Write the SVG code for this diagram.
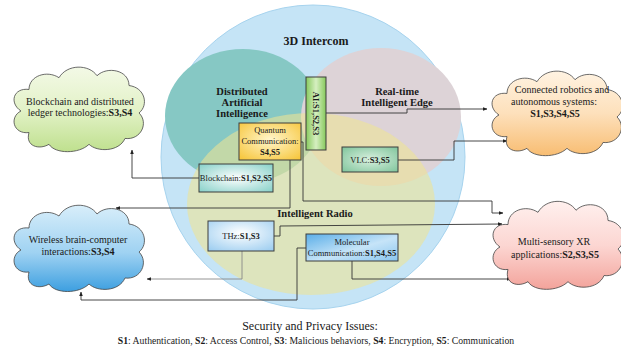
<svg xmlns="http://www.w3.org/2000/svg" xmlns:xlink="http://www.w3.org/1999/xlink" width="621" height="350" viewBox="0 0 621 350" font-family="'Liberation Serif', 'DejaVu Serif', serif">
  <defs>
    <style>
      text { font-family: "Liberation Serif", "DejaVu Serif", serif; fill: #1a1a1a; }
      .zone { font-size: 10.5px; font-weight: bold; text-anchor: middle; }
      .box { font-size: 8.5px; text-anchor: middle; }
      .cloudtxt { font-size: 10px; text-anchor: middle; }
      .b { font-weight: bold; }
      .boxframe { stroke: #3c3c3c; stroke-width: 1; }
      .wire { fill: none; stroke: #333; stroke-width: 0.9; }
      .wire.light { stroke: #888; }
      .cloudline { stroke: #444; stroke-width: 0.8; }
    </style>
    <marker id="arrow" viewBox="0 0 10 10" refX="9" refY="5" markerWidth="5" markerHeight="5" orient="auto">
      <path d="M0,1 L10,5 L0,9 z" fill="#222"/>
    </marker>
    <path id="cloud" d="M22,72 C6,74 2,56 14,50 C2,42 6,26 22,28 C22,14 40,8 52,16 C60,2 82,2 90,14 C100,4 122,8 122,24 C138,26 142,44 132,52 C142,62 134,80 118,78 C112,92 90,92 82,84 C72,94 48,94 42,84 C32,90 18,86 22,72 Z"/>
    <linearGradient id="gGreenCloud" x1="0" y1="0" x2="0" y2="1">
      <stop offset="0" stop-color="#f3f9e6"/>
      <stop offset="0.5" stop-color="#e3f2c8"/>
      <stop offset="1" stop-color="#bfe08e"/>
    </linearGradient>
    <linearGradient id="gBlueCloud" x1="0" y1="0" x2="0" y2="1">
      <stop offset="0" stop-color="#d8eefa"/>
      <stop offset="0.55" stop-color="#9fd2f2"/>
      <stop offset="1" stop-color="#3d9fe0"/>
    </linearGradient>
    <linearGradient id="gOrangeCloud" x1="0" y1="0" x2="0" y2="1">
      <stop offset="0" stop-color="#fff3e2"/>
      <stop offset="0.5" stop-color="#fde0bb"/>
      <stop offset="1" stop-color="#f8bd72"/>
    </linearGradient>
    <linearGradient id="gPinkCloud" x1="0" y1="0" x2="0" y2="1">
      <stop offset="0" stop-color="#fff0ee"/>
      <stop offset="0.5" stop-color="#fcd6d2"/>
      <stop offset="1" stop-color="#f3a39b"/>
    </linearGradient>
    <radialGradient id="gTeal" cx="0.5" cy="0.5" r="0.7">
      <stop offset="0" stop-color="#ffffff"/>
      <stop offset="1" stop-color="#86d0c8"/>
    </radialGradient>
    <radialGradient id="gYellow" cx="0.5" cy="0.45" r="0.7">
      <stop offset="0" stop-color="#fff6cc"/>
      <stop offset="1" stop-color="#f7c63c"/>
    </radialGradient>
    <linearGradient id="gGreenBox" x1="0" y1="0" x2="1" y2="0">
      <stop offset="0" stop-color="#86c95c"/>
      <stop offset="0.5" stop-color="#d6efc1"/>
      <stop offset="1" stop-color="#86c95c"/>
    </linearGradient>
    <radialGradient id="gVlc" cx="0.5" cy="0.5" r="0.7">
      <stop offset="0" stop-color="#d9f0df"/>
      <stop offset="1" stop-color="#7fc49b"/>
    </radialGradient>
    <radialGradient id="gThz" cx="0.5" cy="0.4" r="0.75">
      <stop offset="0" stop-color="#ffffff"/>
      <stop offset="1" stop-color="#9ccdf0"/>
    </radialGradient>
    <linearGradient id="gMol" x1="0" y1="0" x2="1" y2="1">
      <stop offset="0" stop-color="#5aaee8"/>
      <stop offset="0.55" stop-color="#c6e4f8"/>
      <stop offset="1" stop-color="#8ac6ef"/>
    </linearGradient>
  </defs>

  <rect width="621" height="350" fill="#ffffff"/>

  <!-- overlapping technology zones -->
  <g id="zones">
    <circle cx="313" cy="157" r="152" fill="#c5e4f6" stroke="#a6d3ee" stroke-width="1"/>
    <ellipse cx="243" cy="116" rx="78" ry="67" fill="#86c8c4"/>
    <ellipse cx="381" cy="117" rx="80" ry="69" fill="#ddd3d7"/>
    <ellipse cx="311" cy="204" rx="124" ry="91" fill="#eee394" fill-opacity="0.58"/>
    <text class="zone" x="316" y="45" style="font-size:12px">3D Intercom</text>
    <text class="zone" x="242" y="95">Distributed</text>
    <text class="zone" x="242" y="106">Artificial</text>
    <text class="zone" x="242" y="117">Intelligence</text>
    <text class="zone" x="397" y="95">Real-time</text>
    <text class="zone" x="397" y="106">Intelligent Edge</text>
    <text class="zone" x="315" y="217">Intelligent Radio</text>
  </g>

  <!-- connectors -->
  <g id="connectors">
    <polyline class="wire" points="199,178 132,178 132,150" marker-end="url(#arrow)"/>
    <polyline class="wire" points="290,160 290,208 116,208" marker-end="url(#arrow)"/>
    <polyline class="wire" points="301,142 303,142 303,201 492,201 492,213 503,213" marker-end="url(#arrow)"/>
    <polyline class="wire" points="326,113 407,113 407,109 487,109" marker-end="url(#arrow)"/>
    <polyline class="wire" points="398,160 454,160 454,141 507,141" marker-end="url(#arrow)"/>
    <polyline class="wire" points="274,236 280,236 280,226 502,224" marker-end="url(#arrow)"/>
    <polyline class="wire light" points="242,251 242,279 147,279" marker-end="url(#arrow)"/>
    <polyline class="wire" points="306,248 297,248 297,300 81,300 81,292" marker-end="url(#arrow)"/>
    <polyline class="wire" points="352,261 352,279 511,279" marker-end="url(#arrow)"/>
  </g>

  <!-- application clouds -->
  <g id="cloud-blockchain">
    <use xlink:href="#cloud" href="#cloud" transform="translate(7,62) scale(1.0,0.98)" fill="url(#gGreenCloud)" class="cloudline"/>
    <text class="cloudtxt" x="80" y="105">Blockchain and distributed</text>
    <text class="cloudtxt" x="80" y="116">ledger technologies:<tspan class="b">S3,S4</tspan></text>
  </g>
  <g id="cloud-bci">
    <use xlink:href="#cloud" href="#cloud" transform="translate(7,200) scale(1.0,1.0)" fill="url(#gBlueCloud)" class="cloudline"/>
    <text class="cloudtxt" x="78" y="243">Wireless brain-computer</text>
    <text class="cloudtxt" x="78" y="255">interactions:<tspan class="b">S3,S4</tspan></text>
  </g>
  <g id="cloud-robotics">
    <use xlink:href="#cloud" href="#cloud" transform="translate(485,66) scale(1.0,0.98)" fill="url(#gOrangeCloud)" class="cloudline"/>
    <text class="cloudtxt" x="562" y="93">Connected robotics and</text>
    <text class="cloudtxt" x="554" y="105">autonomous systems:</text>
    <text class="cloudtxt b" x="555" y="117">S1,S3,S4,S5</text>
  </g>
  <g id="cloud-xr">
    <use xlink:href="#cloud" href="#cloud" transform="translate(486,196) scale(1.0,1.02)" fill="url(#gPinkCloud)" class="cloudline"/>
    <text class="cloudtxt" x="554" y="245">Multi-sensory XR</text>
    <text class="cloudtxt" x="555" y="258">applications:<tspan class="b">S2,S3,S5</tspan></text>
  </g>

  <!-- technology boxes -->
  <g id="box-ai">
    <rect class="boxframe" x="306" y="77" width="20" height="73" fill="url(#gGreenBox)"/>
    <text class="box b" transform="translate(313,113.5) rotate(90)">AI:S1,S2,S3</text>
  </g>
  <g id="box-quantum">
    <rect class="boxframe" x="239" y="123" width="62" height="37" fill="url(#gYellow)"/>
    <text class="box" x="270" y="133">Quantum</text>
    <text class="box" x="270" y="144">Communication:</text>
    <text class="box b" x="270" y="155">S4,S5</text>
  </g>
  <g id="box-blockchain">
    <rect class="boxframe" x="199" y="164" width="74" height="28" fill="url(#gTeal)"/>
    <text class="box" x="236" y="181">Blockchain:<tspan class="b">S1,S2,S5</tspan></text>
  </g>
  <g id="box-vlc">
    <rect class="boxframe" x="342" y="147" width="56" height="25" fill="url(#gVlc)"/>
    <text class="box" x="370" y="162.5">VLC:<tspan class="b">S3,S5</tspan></text>
  </g>
  <g id="box-thz">
    <rect class="boxframe" x="208" y="221" width="66" height="30" fill="url(#gThz)"/>
    <text class="box" x="241" y="239">THz:<tspan class="b">S1,S3</tspan></text>
  </g>
  <g id="box-molecular">
    <rect class="boxframe" x="306" y="234" width="92" height="27" fill="url(#gMol)"/>
    <text class="box" x="352" y="245">Molecular</text>
    <text class="box" x="352" y="256">Communication:<tspan class="b">S1,S4,S5</tspan></text>
  </g>

  <!-- legend -->
  <g id="legend">
    <text x="310" y="330" style="font-size:12px; text-anchor:middle">Security and Privacy Issues:</text>
    <text x="316" y="344" style="font-size:9.7px; text-anchor:middle"><tspan class="b">S1</tspan>: Authentication, <tspan class="b">S2</tspan>: Access Control, <tspan class="b">S3</tspan>: Malicious behaviors, <tspan class="b">S4</tspan>: Encryption, <tspan class="b">S5</tspan>: Communication</text>
  </g>
</svg>
